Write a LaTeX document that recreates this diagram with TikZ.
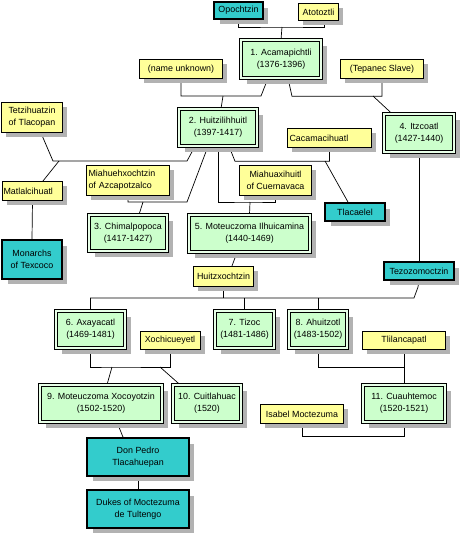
\documentclass[tikz,border=0pt]{standalone}
\usepackage{fontspec}
\setmainfont{Liberation Sans}
\usetikzlibrary{shadows, backgrounds}

\definecolor{mateyellow}{HTML}{FFFF99}
\definecolor{rulergreen}{HTML}{CCFFCC}
\definecolor{rulerpale}{HTML}{E8FFE8}
\definecolor{kincyan}{HTML}{33CCCC}

\begin{document}
\begin{tikzpicture}[x=1pt, y=-1pt,
    person/.style={draw, line width=0.6pt, inner sep=1pt, align=center, font=\fontsize{8.9}{12}\selectfont},
    mate/.style={person, fill=mateyellow, drop shadow={shadow xshift=4.5pt, shadow yshift=-4.5pt, fill=black!30, opacity=1}},
    ruler/.style={person, fill=rulergreen, double=rulerpale, double distance=2.4pt, drop shadow={shadow xshift=6pt, shadow yshift=-6pt, fill=black!30, opacity=1}},
    kin/.style={person, fill=kincyan, line width=2.4pt, drop shadow={shadow xshift=5.5pt, shadow yshift=-5.5pt, fill=black!30, opacity=1}},
    link/.style={line width=0.7pt}]
    \useasboundingbox (0,0) rectangle (462,536);

    % top generation
    \node[kin, minimum width=48.5, minimum height=16.5] (opo) at (238.5,10.5) {Opochtzin};
    \node[mate, minimum width=40.5, minimum height=17.5] (ato) at (318.5,12) {Atotoztli};
    \node[ruler, minimum width=80, minimum height=38] (acam) at (281,59) {1. Acamapichtli\\(1376-1396)};
    \node[mate, minimum width=83.5, minimum height=19.5] (nameu) at (181,69) {(name unknown)};
    \node[mate, minimum width=83.5, minimum height=19.5] (tepan) at (382,69) {(Tepanec Slave)};

    % second generation
    \node[ruler, minimum width=78, minimum height=37] (huitzi) at (218,127.5) {2. Huitzilihhuitl\\(1397-1417)};
    \node[ruler, minimum width=70, minimum height=38] (itz) at (419,133) {4. Itzcoatl\\(1427-1440)};
    \node[mate, minimum width=61.5, minimum height=30.5] (tetzi) at (32,117.5) {Tetzihuatzin\\of Tlacopan};
    \node[mate, minimum width=84.5, minimum height=19.5, text width=80, align=left] (caca) at (329.5,138) {Cacamacihuatl};

    % wives of Huitzilihhuitl and their children
    \node[mate, minimum width=60.5, minimum height=19.5, text width=58, align=left] (matl) at (32.5,191) {Matlalcihuatl};
    \node[kin, minimum width=59.5, minimum height=38.5] (monar) at (32,259.5) {Monarchs\\of Texcoco};
    \node[mate, minimum width=83.5, minimum height=30.5, text width=79, align=left] (miahue) at (128,180.5) {Miahuehxochtzin\\of Azcapotzalco};
    \node[ruler, minimum width=78, minimum height=36] (chimal) at (128,233) {3. Chimalpopoca\\(1417-1427)};
    \node[mate, minimum width=72.5, minimum height=30.5] (miahua) at (275.5,180.5) {Miahuaxihuitl\\of Cuernavaca};
    \node[ruler, minimum width=121, minimum height=37] (mot1) at (249.5,233.5) {5. Moteuczoma Ilhuicamina\\(1440-1469)};
    \node[kin, minimum width=59.5, minimum height=17.5] (tlaca) at (355,212) {Tlacaelel};

    % Huitzxochtzin and Tezozomoctzin
    \node[mate, minimum width=60.5, minimum height=20.5] (huitzx) at (223.5,276.5) {Huitzxochtzin};
    \node[kin, minimum width=69.5, minimum height=17.5] (tezo) at (419,271) {Tezozomoctzin};

    % their sons
    \node[ruler, minimum width=69, minimum height=37] (axa) at (90.5,329.5) {6. Axayacatl\\(1469-1481)};
    \node[ruler, minimum width=59, minimum height=37] (tizoc) at (244.5,329.5) {7. Tizoc\\(1481-1486)};
    \node[ruler, minimum width=58, minimum height=37] (ahui) at (318,329.5) {8. Ahuitzotl\\(1483-1502)};
    \node[mate, minimum width=60, minimum height=18.5] (xochi) at (170,340.5) {Xochicueyetl};
    \node[mate, minimum width=83.5, minimum height=18.5] (tlila) at (404,340.5) {Tlilancapatl};

    % last rulers
    \node[ruler, minimum width=122, minimum height=37] (mot2) at (101,403.5) {9. Moteuczoma Xocoyotzin\\(1502-1520)};
    \node[ruler, minimum width=68, minimum height=37] (cuit) at (207,403.5) {10. Cuitlahuac\\(1520)};
    \node[ruler, minimum width=82, minimum height=37] (cuauh) at (404,403.5) {11. Cuauhtemoc\\(1520-1521)};
    \node[mate, minimum width=83.5, minimum height=19.5] (isabel) at (302,414) {Isabel Moctezuma};

    % descendants
    \node[kin, minimum width=101.5, minimum height=37.5] (donp) at (138,457) {Don Pedro\\Tlacahuepan};
    \node[kin, minimum width=101.5, minimum height=37.5] (dukes) at (138,509) {Dukes of Moctezuma\\de Tultengo};

    \begin{scope}[on background layer]
    % Opochtzin and Atotoztli
    \coordinate (j1) at (282,27);
    \draw[link] (opo.south) |- (j1) -| ([xshift=5.5]ato.south);
    \draw[link] (j1) -- (acam.north);

    % (name unknown)
    \coordinate (j2) at (223,96);
    \draw[link] (nameu.south) |- (j2) -- ++(38,0) -- ([xshift=-13]acam.south);
    \draw[link] (j2) -- ([xshift=3]huitzi.north);

    % Tepanec Slave
    \coordinate (j3) at (373,96);
    \draw[link] ([xshift=7]acam.south) -- ++(4,18) -| (tepan.south);
    \draw[link] (j3) -- ([xshift=-27]itz.north);

    % Tetzihuatzin
    \coordinate (j4) at (59,161);
    \draw[link] ([xshift=9]tetzi.south) -- ++(12,28) -- ++(134,0) -- ([xshift=-23]huitzi.south);
    \draw[link] (j4) -- ([xshift=10.5]matl.north);
    \draw[link] (matl.south) -- (monar.north);

    % Miahuehxochtzin
    \coordinate (j5) at (143,202);
    \draw[link] (miahue.south) |- (j5) -- ++(44,0) -- ([xshift=-10]huitzi.south);
    \draw[link] (j5) -- ([xshift=11]chimal.north);

    % Miahuaxihuitl
    \coordinate (j6) at (250,202);
    \draw[link] (huitzi.south) |- (j6) -| (miahua.south);
    \draw[link] (j6) -- (mot1.north);

    % Cacamacihuatl
    \coordinate (j7) at (325,161);
    \draw[link] ([xshift=11]huitzi.south) -- ++(6,15) -| (caca.south);
    \draw[link] (j7) -- ([xshift=-7]tlaca.north);

    \draw[link] (itz.south) -- (tezo.north);
    \draw[link] ([xshift=-12.5]mot1.south) -- ([xshift=8.5]huitzx.north);

    % Huitzxochtzin and Tezozomoctzin
    \coordinate (j8) at (414,298);
    \draw[link] (huitzx.south) -- (huitzx.south |- j8);
    \draw[link] (axa.north) |- (j8) -- ++(4,-11) -- (tezo.south);
    \draw[link] (tizoc.north) -- (tizoc.north |- j8);
    \draw[link] (ahui.north) -- (ahui.north |- j8);

    % Axayacatl and Xochicueyetl
    \coordinate (j9) at (112,367);
    \coordinate (j10) at (160,367);
    \draw[link] (axa.south) |- (j9) -| (xochi.south);
    \draw[link] (j9) -- ([xshift=6]mot2.north);
    \draw[link] (j10) -- ([xshift=-27]cuit.north);

    % Ahuitzotl and Tlilancapatl
    \coordinate (j11) at (404,367);
    \draw[link] (ahui.south) |- (j11) -- (tlila.south);
    \draw[link] (j11) -- (cuauh.north);

    % Isabel Moctezuma
    \coordinate (j12) at (404,436);
    \draw[link] (isabel.south) |- (j12) -- (cuauh.south);

    \draw[link] ([xshift=16]mot2.south) -- ([xshift=-15]donp.north);
    \draw[link] (donp.south) -- (dukes.north);
    \end{scope}
\end{tikzpicture}
\end{document}
